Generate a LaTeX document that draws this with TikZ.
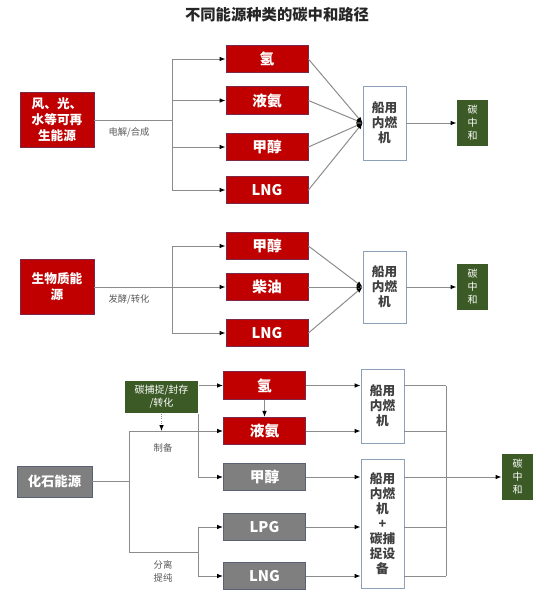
\documentclass[tikz,border=0pt]{standalone}
\usepackage{fontspec}
\setmainfont{Noto Sans CJK SC}
\usetikzlibrary{arrows.meta}

\definecolor{fuelred}{HTML}{C00000}
\definecolor{redrim}{HTML}{7A2A48}
\definecolor{fossilgrey}{HTML}{7F7F7F}
\definecolor{greyrim}{HTML}{5A6272}
\definecolor{neutralgreen}{HTML}{3B5A25}
\definecolor{engrim}{HTML}{8EA0B8}
\definecolor{linegrey}{HTML}{8C8C8C}
\definecolor{labelgrey}{HTML}{595959}

\tikzset{every picture/.style={line width=0.75pt}}
\tikzset{
  fuelbox/.style={draw=redrim, line width=0.6pt, fill=fuelred, text=white, inner sep=0pt,
    font=\bfseries\fontsize{11}{12}\selectfont, minimum width=61.5pt, minimum height=20.5pt},
  fossilbox/.style={fuelbox, draw=greyrim, fill=fossilgrey},
  srcbox/.style={fuelbox, align=center, font=\bfseries\fontsize{9.5}{12}\selectfont,
    minimum width=55.5pt, minimum height=41.25pt},
  engbox/.style={draw=engrim, line width=0.6pt, fill=white, text=black!75, inner sep=0pt, align=center,
    font=\bfseries\fontsize{9.5}{11.25}\selectfont, minimum width=32.25pt},
  cnbox/.style={fill=neutralgreen, text=white, inner sep=0pt, align=center,
    font=\fontsize{7.5}{9.75}\selectfont, minimum width=23.25pt, minimum height=34.5pt},
  steplabel/.style={text=labelgrey, inner sep=0pt, align=center, font=\fontsize{7}{9.75}\selectfont},
  link/.style={draw=linegrey, line width=0.75pt},
  arr/.style={link, -{Latex[length=4.5pt,width=3.5pt,color=black]}}
}

\begin{document}
\begin{tikzpicture}[x=0.75pt,y=0.75pt,yscale=-1,xscale=1]
\useasboundingbox (0,0) rectangle (555,596);

% Title
\node (title) at (277,15) [font=\bfseries\fontsize{11.5}{13}\selectfont, text=black!85] {不同能源种类的碳中和路径};

%%%% Renewable path
%Shape: Rectangle [id:src1]
\node (src1) at (57,120) [srcbox] {风、光、\\水等可再\\生能源};
\node (h1) at (267,59) [fuelbox] {氢};
\node (nh1) at (267,100.5) [fuelbox] {液氨};
\node (me1) at (267,147) [fuelbox] {甲醇};
\node (lng1) at (267,190) [fuelbox] {LNG};
\node (eng1) at (384.5,123) [engbox, minimum height=55.5pt] {船用\\内燃\\机};
\node (cn1) at (472.5,123) [cnbox] {碳\\中\\和};
\coordinate (j1) at (172,120);

%Straight Lines
\draw [link] (src1.east) -- (j1);
\draw [link] (j1|-h1) -- (j1|-lng1);
\foreach \f in {h1,nh1,me1,lng1}{
  \draw [arr] (j1|-\f) -- (\f.west);
  \draw [arr] (\f.east) -- (eng1.west);
}
\draw [arr] (eng1.east) -- (cn1.west);

% Text Node
\node (lbl1) at (129,132) [steplabel] {电解/合成};

%%%% Biomass path
%Shape: Rectangle [id:src2]
\node (src2) at (57,287) [srcbox] {生物质能\\源};
\node (me2) at (267,246) [fuelbox] {甲醇};
\node (ch2) at (267,287) [fuelbox] {柴油};
\node (lng2) at (267,333) [fuelbox] {LNG};
\node (eng2) at (384.5,287) [engbox, minimum height=54pt] {船用\\内燃\\机};
\node (cn2) at (472.5,287) [cnbox] {碳\\中\\和};
\coordinate (j2) at (172,287);

%Straight Lines
\draw [link] (src2.east) -- (j2);
\draw [link] (j2|-me2) -- (j2|-lng2);
\foreach \f in {me2,ch2,lng2}{
  \draw [arr] (j2|-\f) -- (\f.west);
  \draw [arr] (\f.east) -- (eng2.west);
}
\draw [arr] (eng2.east) -- (cn2.west);

% Text Node
\node (lbl2) at (129,299) [steplabel] {发酵/转化};

%%%% Fossil path
%Shape: Rectangle [id:src3]
\node (src3) at (54.5,481.5) [fossilbox, minimum width=56.25pt, minimum height=23.25pt, font=\bfseries\fontsize{10}{12}\selectfont] {化石能源};
\node (ccs) at (161.5,397) [cnbox, minimum width=54.75pt, minimum height=24pt, font=\fontsize{7.5}{9.75}\selectfont] {碳捕捉/封存\\/转化};
\node (h3) at (264.5,385.5) [fuelbox] {氢};
\node (nh3) at (264.5,431) [fuelbox] {液氨};
\node (me3) at (264.5,477) [fossilbox] {甲醇};
\node (lpg3) at (264.5,527) [fossilbox] {LPG};
\node (lng3) at (264.5,576) [fossilbox] {LNG};
\node (eng3) at (382.5,406) [engbox, minimum height=55.5pt] {船用\\内燃\\机};
\node (eng4) at (382.5,523.5) [engbox, minimum height=96.75pt] {船用\\内燃\\机\\+\\碳捕\\捉设\\备};
\node (cn3) at (517.5,477) [cnbox] {碳\\中\\和};
\coordinate (j3) at (129,481.5);
\coordinate (j4) at (198,552);
\coordinate (bus) at (446,477);

%Straight Lines
\draw [link] (src3.east) -- (j3);
\draw [link] (j3|-nh3) -- (j3|-j4) -- (j4);
\draw [arr] (j3|-nh3) -- (nh3.west);
\draw [arr] (ccs.east|-h3) -- (h3.west);
\draw [arr, densely dotted] (ccs.south) -- (ccs.south|-nh3);
\draw [arr] (ccs.south east) |- (me3.west);
\draw [arr] (h3.south) -- (nh3.north);
\draw [link] (j4|-lpg3) -- (j4|-lng3);
\draw [arr] (j4|-lpg3) -- (lpg3.west);
\draw [arr] (j4|-lng3) -- (lng3.west);
\foreach \f in {h3,nh3}{
  \draw [arr] (\f.east) -- (eng3.west|-\f);
  \draw [link] (eng3.east|-\f) -- (bus|-\f);
}
\foreach \f in {me3,lpg3,lng3}{
  \draw [arr] (\f.east) -- (eng4.west|-\f);
  \draw [link] (eng4.east|-\f) -- (bus|-\f);
}
\draw [link] (bus|-h3) -- (bus|-lng3);
\draw [arr] (bus) -- (cn3.west);

% Text Node
\node (lbl3) at (163,448) [steplabel] {制备};
\node (lbl4) at (163,571) [steplabel] {分离\\提纯};

\end{tikzpicture}
\end{document}
